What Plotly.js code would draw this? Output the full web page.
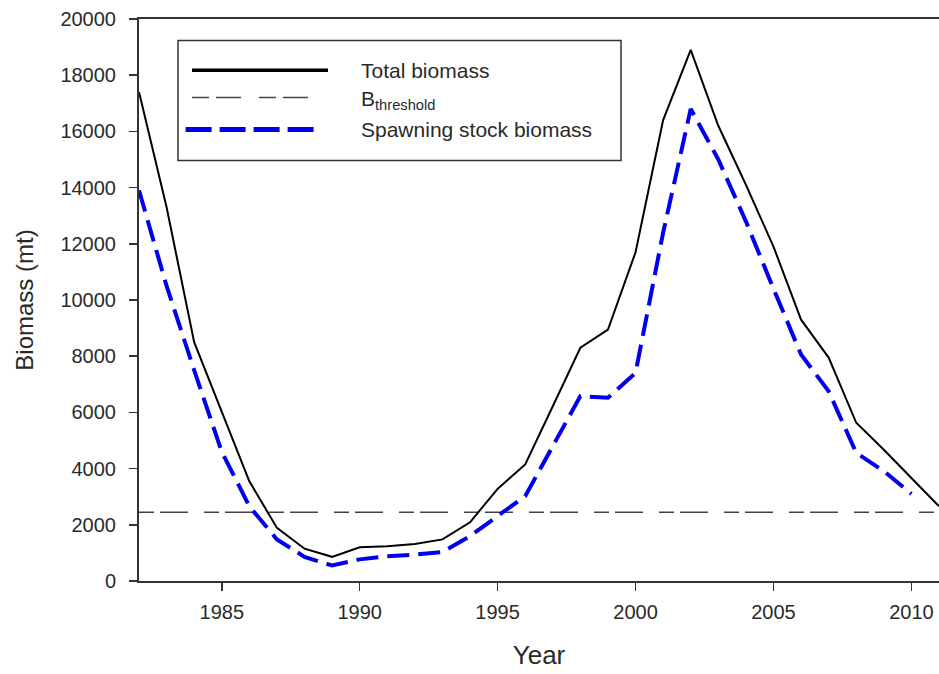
<!DOCTYPE html>
<html>
<head>
<meta charset="utf-8">
<script src="https://cdn.plot.ly/plotly-3.0.1.min.js"></script>
<style>
html,body{margin:0;padding:0;background:#fff;}
#chart{width:939px;height:674px;}
</style>
</head>
<body>
<div id="chart"></div>
<script>
var years = [1982,1983,1984,1985,1986,1987,1988,1989,1990,1991,1992,1993,1994,1995,1996,1997,1998,1999,2000,2001,2002,2003,2004,2005,2006,2007,2008,2009,2010,2011];
var totalBiomass = [17400,13300,8500,6000,3550,1890,1150,860,1200,1240,1320,1480,2090,3280,4150,6220,8300,8950,11700,16400,18900,16200,14100,11900,9300,7950,5630,4670,3660,2660];
var ssbYears = [1982,1983,1984,1985,1986,1987,1988,1989,1990,1991,1992,1993,1994,1995,1996,1997,1998,1999,2000,2001,2002,2003,2004,2005,2006,2007,2008,2009,2010];
var ssb = [13900,10500,7500,4600,2660,1480,860,550,770,880,940,1030,1600,2310,3020,4800,6580,6520,7410,12400,16800,15000,12800,10400,8060,6750,4560,3910,3100];
var thresholdYears = [1982, 2011];
var bThreshold = [2450, 2450];
var seriesNames = ["Total biomass", "B<sub>threshold</sub>", "Spawning stock biomass"];
var yTicks = [0,2000,4000,6000,8000,10000,12000,14000,16000,18000,20000];
var xTicks = [1985,1990,1995,2000,2005,2010];

var FONT = "Liberation Sans, Arial, sans-serif";
var TXT = "#2a2a2a";
var threshDash = "15px,6px,28px,16px";
var ssbDash = "22px,9px";

var traces = [
  {x: thresholdYears, y: bThreshold, mode: "lines", name: seriesNames[1],
   line: {color: "#444", width: 1.5, dash: threshDash}, hoverinfo: "skip"},
  {x: years, y: totalBiomass, mode: "lines", name: seriesNames[0],
   line: {color: "#000", width: 2}},
  {x: ssbYears, y: ssb, mode: "lines", name: seriesNames[2],
   line: {color: "#0000ee", width: 4, dash: ssbDash}}
];

// legend box geometry (paper coords)
var lx0 = 0.04875, lx1 = 0.6025, ly0 = 0.7482, ly1 = 0.9617;
var sx0 = 0.06625, sx1 = 0.23625, tx = 0.2745;
var rows = [0.9089, 0.8603, 0.8034];

var shapes = [
  {type: "rect", xref: "paper", yref: "paper", x0: lx0, x1: lx1, y0: ly0, y1: ly1,
   line: {color: "#333", width: 1.5}, fillcolor: "rgba(255,255,255,0)"},
  {type: "line", xref: "paper", yref: "paper", x0: sx0, x1: sx1, y0: rows[0], y1: rows[0],
   line: {color: "#000", width: 3.5}},
  {type: "line", xref: "paper", yref: "paper", x0: sx0, x1: sx1 - 0.008, y0: rows[1], y1: rows[1],
   line: {color: "#444", width: 1.5, dash: "17px,7px,25px,18px"}},
  {type: "line", xref: "paper", yref: "paper", x0: sx0 - 0.008, x1: sx1 - 0.01, y0: rows[2], y1: rows[2],
   line: {color: "#0000ee", width: 5, dash: "26px,8px"}}
];

var annotations = [];
for (var i = 0; i < 3; i++) {
  annotations.push({xref: "paper", yref: "paper", x: tx, y: rows[i] + (i === 1 ? -0.004 : 0),
    text: seriesNames[i], showarrow: false, xanchor: "left", yanchor: "middle",
    font: {family: FONT, size: 21, color: TXT}});
}

var layout = {
  width: 939, height: 674,
  margin: {l: 139, r: 0, t: 19, b: 92.5},
  paper_bgcolor: "#fff", plot_bgcolor: "#fff",
  showlegend: false,
  font: {family: FONT, color: TXT},
  xaxis: {
    range: [1982, 2011], tickvals: xTicks, ticktext: xTicks.map(String),
    showgrid: false, zeroline: false,
    showline: true, linecolor: "#333", linewidth: 2, mirror: true,
    ticks: "outside", ticklen: 8, tickwidth: 1.5, tickcolor: "#333",
    ticklabelstandoff: 4,
    tickfont: {family: FONT, size: 20, color: TXT},
    title: {text: "Year", font: {family: FONT, size: 26, color: TXT}, standoff: 24}
  },
  yaxis: {
    range: [0, 20000], tickvals: yTicks, ticktext: yTicks.map(String),
    showgrid: false, zeroline: false,
    showline: true, linecolor: "#333", linewidth: 2, mirror: true,
    ticks: "outside", ticklen: 8, tickwidth: 1.5, tickcolor: "#333",
    ticklabelstandoff: 9,
    tickfont: {family: FONT, size: 20, color: TXT},
    title: {text: "Biomass (mt)", font: {family: FONT, size: 24, color: TXT}, standoff: 20}
  },
  shapes: shapes,
  annotations: annotations
};

Plotly.newPlot("chart", traces, layout, {displayModeBar: false, staticPlot: true});
</script>
</body>
</html>
